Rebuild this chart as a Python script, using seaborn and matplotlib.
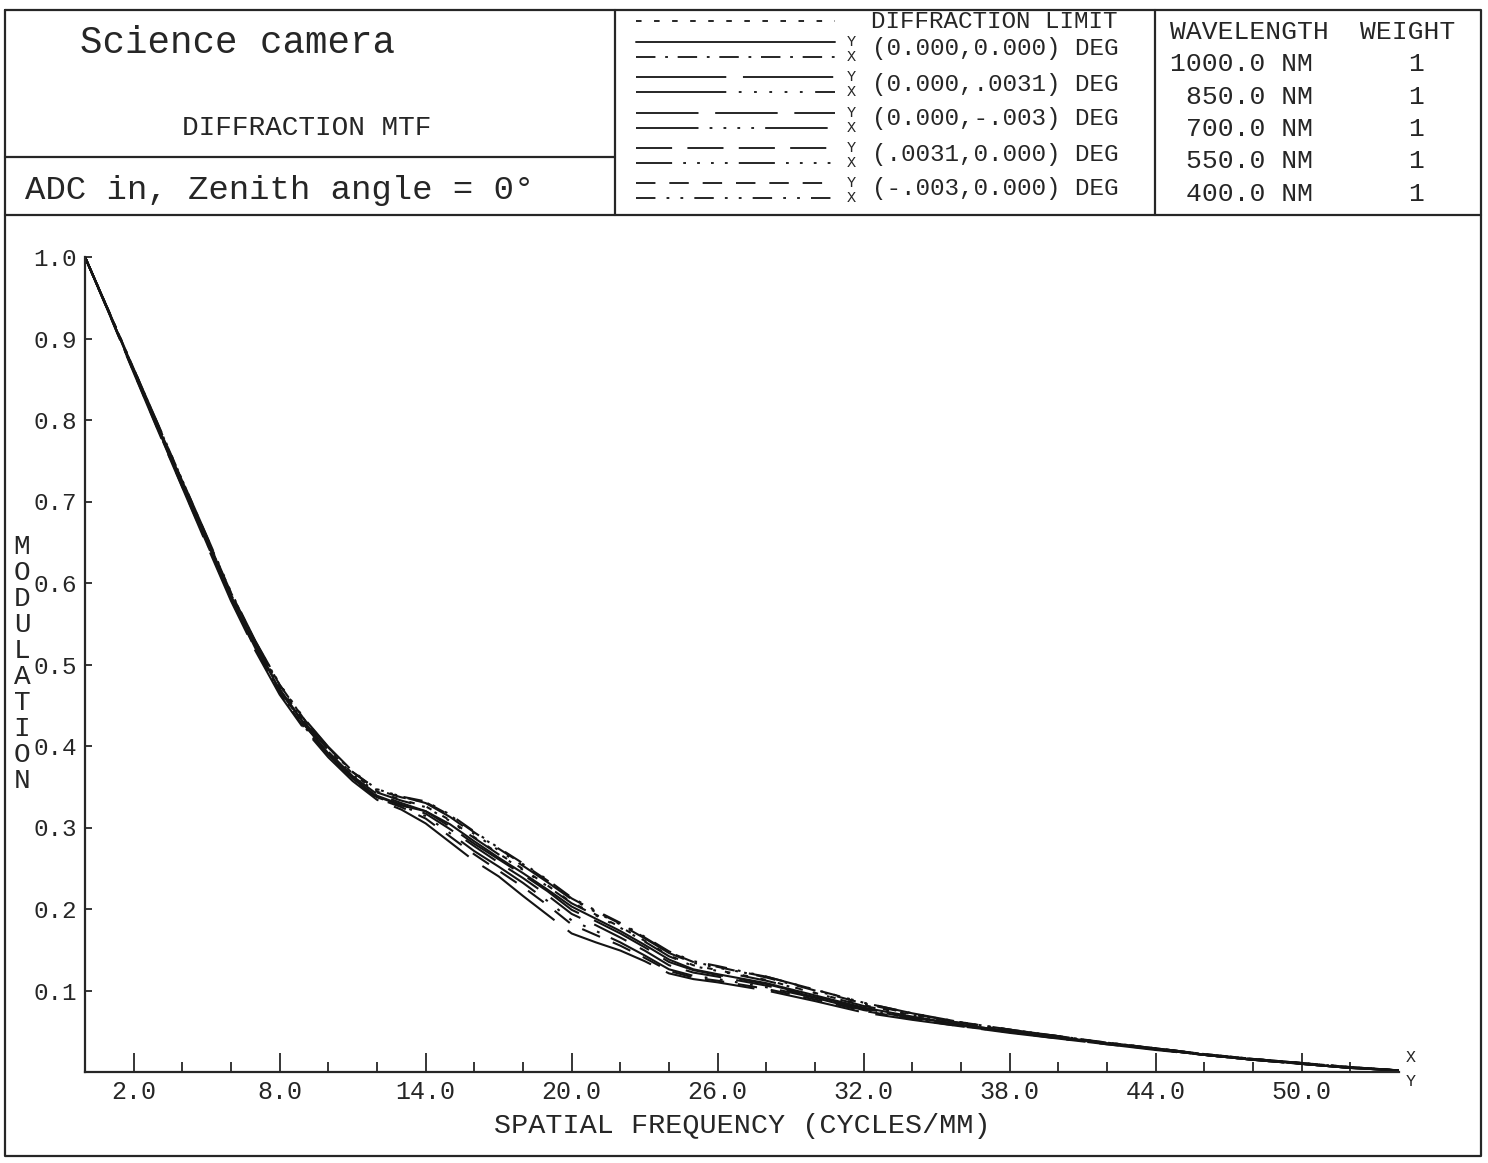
import matplotlib
matplotlib.use("Agg")
import matplotlib.pyplot as plt
import numpy as np
import pandas as pd
import seaborn as sns
from matplotlib.ticker import FixedLocator, FormatStrFormatter

# ---------------- data ----------------
freq = [0, 1, 2, 3, 4, 5, 6, 7, 8, 9, 10, 11, 12, 13, 14, 15, 16, 17, 18, 19, 20,
        21, 22, 23, 24, 25, 26, 28, 30, 32, 34, 36, 38, 40, 42, 44, 46, 48, 50, 52, 54]

diff_limit = [1.000, 0.932, 0.862, 0.793, 0.724, 0.655, 0.586, 0.526, 0.473, 0.431, 0.396,
              0.366, 0.344, 0.334, 0.326, 0.309, 0.288, 0.268, 0.249, 0.229, 0.208,
              0.193, 0.178, 0.161, 0.143, 0.131, 0.125, 0.113, 0.097, 0.082, 0.070,
              0.060, 0.051, 0.043, 0.036, 0.029, 0.022, 0.016, 0.011, 0.006, 0.002]
f1_y = [1.000, 0.931, 0.860, 0.790, 0.721, 0.652, 0.583, 0.523, 0.469, 0.427, 0.391,
        0.361, 0.338, 0.327, 0.320, 0.304, 0.283, 0.263, 0.244, 0.224, 0.203,
        0.188, 0.173, 0.156, 0.138, 0.126, 0.120, 0.109, 0.094, 0.079, 0.068,
        0.058, 0.050, 0.042, 0.035, 0.028, 0.021, 0.015, 0.010, 0.005, 0.002]
f1_x = [1.000, 0.932, 0.863, 0.794, 0.726, 0.657, 0.588, 0.528, 0.475, 0.433, 0.398,
        0.368, 0.346, 0.337, 0.331, 0.315, 0.294, 0.274, 0.255, 0.235, 0.213,
        0.197, 0.182, 0.165, 0.147, 0.135, 0.129, 0.116, 0.100, 0.084, 0.071,
        0.061, 0.052, 0.044, 0.036, 0.029, 0.022, 0.016, 0.011, 0.006, 0.002]
f2_y = [1.000, 0.930, 0.858, 0.787, 0.717, 0.647, 0.578, 0.517, 0.463, 0.421, 0.386,
        0.357, 0.334, 0.322, 0.305, 0.282, 0.259, 0.240, 0.216, 0.193, 0.170,
        0.159, 0.149, 0.136, 0.121, 0.114, 0.110, 0.100, 0.087, 0.073, 0.064,
        0.056, 0.048, 0.041, 0.034, 0.027, 0.021, 0.015, 0.010, 0.005, 0.002]
f2_x = [1.000, 0.931, 0.859, 0.789, 0.719, 0.650, 0.581, 0.520, 0.466, 0.424, 0.389,
        0.360, 0.337, 0.327, 0.314, 0.293, 0.271, 0.252, 0.232, 0.210, 0.186,
        0.173, 0.159, 0.143, 0.126, 0.118, 0.114, 0.104, 0.091, 0.076, 0.066,
        0.057, 0.049, 0.042, 0.035, 0.028, 0.021, 0.015, 0.010, 0.005, 0.002]
f3_y = [1.000, 0.931, 0.861, 0.791, 0.722, 0.653, 0.584, 0.524, 0.470, 0.428, 0.393,
        0.363, 0.341, 0.330, 0.320, 0.301, 0.280, 0.261, 0.242, 0.222, 0.199,
        0.185, 0.170, 0.153, 0.135, 0.125, 0.119, 0.108, 0.093, 0.078, 0.067,
        0.058, 0.050, 0.042, 0.035, 0.028, 0.021, 0.015, 0.010, 0.005, 0.002]
f3_x = [1.000, 0.932, 0.863, 0.795, 0.726, 0.658, 0.589, 0.529, 0.476, 0.434, 0.399,
        0.369, 0.347, 0.338, 0.330, 0.313, 0.292, 0.272, 0.253, 0.233, 0.212,
        0.196, 0.181, 0.164, 0.146, 0.134, 0.128, 0.117, 0.101, 0.085, 0.072,
        0.061, 0.052, 0.044, 0.036, 0.029, 0.022, 0.016, 0.011, 0.006, 0.002]
f4_y = [1.000, 0.931, 0.860, 0.790, 0.721, 0.652, 0.583, 0.522, 0.468, 0.426, 0.391,
        0.362, 0.339, 0.328, 0.317, 0.298, 0.277, 0.257, 0.238, 0.217, 0.194,
        0.180, 0.165, 0.149, 0.131, 0.122, 0.117, 0.106, 0.092, 0.077, 0.066,
        0.057, 0.049, 0.042, 0.035, 0.028, 0.021, 0.015, 0.010, 0.005, 0.002]
f4_x = [1.000, 0.932, 0.862, 0.793, 0.724, 0.655, 0.586, 0.526, 0.472, 0.430, 0.395,
        0.365, 0.343, 0.333, 0.325, 0.308, 0.287, 0.267, 0.248, 0.228, 0.207,
        0.192, 0.177, 0.160, 0.142, 0.130, 0.124, 0.112, 0.097, 0.081, 0.070,
        0.060, 0.051, 0.043, 0.036, 0.029, 0.022, 0.016, 0.011, 0.006, 0.002]
f5_y = [1.000, 0.930, 0.859, 0.788, 0.718, 0.649, 0.580, 0.519, 0.465, 0.423, 0.388,
        0.359, 0.336, 0.325, 0.311, 0.289, 0.267, 0.247, 0.227, 0.205, 0.181,
        0.168, 0.155, 0.140, 0.124, 0.116, 0.112, 0.102, 0.089, 0.075, 0.065,
        0.056, 0.049, 0.041, 0.034, 0.028, 0.021, 0.015, 0.010, 0.005, 0.002]
f5_x = [1.000, 0.932, 0.863, 0.794, 0.725, 0.656, 0.588, 0.528, 0.475, 0.433, 0.398,
        0.368, 0.347, 0.338, 0.332, 0.316, 0.295, 0.275, 0.256, 0.236, 0.214,
        0.198, 0.183, 0.166, 0.148, 0.136, 0.130, 0.117, 0.101, 0.085, 0.072,
        0.061, 0.052, 0.044, 0.036, 0.029, 0.022, 0.016, 0.011, 0.006, 0.002]

field_labels = ["(0.000,0.000) DEG", "(0.000,.0031) DEG", "(0.000,-.003) DEG",
                "(.0031,0.000) DEG", "(-.003,0.000) DEG"]
wavelengths = [1000.0, 850.0, 700.0, 550.0, 400.0]
weights = [1, 1, 1, 1, 1]
x_major = [2, 8, 14, 20, 26, 32, 38, 44, 50]
x_minor = [4, 6, 10, 12, 16, 18, 22, 24, 28, 30, 34, 36, 40, 42, 46, 48, 52]
y_ticks = [0.1, 0.2, 0.3, 0.4, 0.5, 0.6, 0.7, 0.8, 0.9, 1.0]

series = {"DL": diff_limit, "F1Y": f1_y, "F1X": f1_x, "F2Y": f2_y, "F2X": f2_x,
          "F3Y": f3_y, "F3X": f3_x, "F4Y": f4_y, "F4X": f4_x, "F5Y": f5_y, "F5X": f5_x}
for k, v in series.items():
    assert len(v) == len(freq), k

# dash styles (points)
dash_styles = {
    "DL": (4, 9),
    "F1Y": "",
    "F1X": (14, 7, 2, 7),
    "F2Y": (65, 12),
    "F2X": (65, 9, 2, 9, 2, 9, 2, 9, 2, 9, 2, 9),
    "F3Y": (45, 12),
    "F3X": (45, 8, 2, 8, 2, 8, 2, 8, 2, 8),
    "F4Y": (26, 11),
    "F4X": (26, 8, 2, 8, 2, 8, 2, 8, 2, 8),
    "F5Y": (14, 10),
    "F5X": (14, 8, 2, 8, 2, 8),
}

rows = []
for k, v in series.items():
    for f, m in zip(freq, v):
        rows.append((k, f, m))
df = pd.DataFrame(rows, columns=["curve", "freq", "mod"])

# ---------------- style ----------------
sns.set_style("white")
plt.rcParams['font.family'] = ['Liberation Mono', 'DejaVu Sans Mono']
plt.rcParams['lines.scale_dashes'] = False
INK = "#262626"

W, H = 1488, 1163
fig = plt.figure(figsize=(W / 100, H / 100), dpi=100)
fig.patch.set_facecolor("white")

bg = fig.add_axes([0, 0, 1, 1])
bg.set_xlim(0, W)
bg.set_ylim(H, 0)
bg.axis("off")

# frame and header boxes
lw_box = 1.6
bg.plot([5, 1481, 1481, 5, 5], [10, 10, 1156, 1156, 10], color=INK, lw=lw_box)
bg.plot([5, 1481], [215, 215], color=INK, lw=lw_box)
bg.plot([615, 615], [10, 215], color=INK, lw=lw_box)
bg.plot([1155, 1155], [10, 215], color=INK, lw=lw_box)
bg.plot([5, 615], [157, 157], color=INK, lw=lw_box)

bg.text(80, 43, "Science camera", fontsize=27, ha="left", va="center", color=INK)
bg.text(307, 128, "DIFFRACTION MTF", fontsize=20, ha="center", va="center", color=INK)
bg.text(25, 191, "ADC in, Zenith angle = 0°", fontsize=24.5, ha="left", va="center", color=INK)

# legend block
bg.plot([636, 835], [21, 21], color=INK, lw=1.4, dashes=dash_styles["DL"])
bg.text(871, 22, "DIFFRACTION LIMIT", fontsize=17.5, ha="left", va="center", color=INK)
row_y = [(42, 57, 49), (77, 92, 84), (113, 128, 119), (148, 163, 154), (183, 198, 189)]
for i, (yy, yx, yt) in enumerate(row_y):
    ky, kx = f"F{i+1}Y", f"F{i+1}X"
    if dash_styles[ky] == "":
        bg.plot([636, 835], [yy, yy], color=INK, lw=1.4)
    else:
        bg.plot([636, 835], [yy, yy], color=INK, lw=1.4, dashes=dash_styles[ky])
    bg.plot([636, 835], [yx, yx], color=INK, lw=1.4, dashes=dash_styles[kx])
    bg.text(851, yy, "Y", fontsize=11, ha="center", va="center", color=INK)
    bg.text(851, yx, "X", fontsize=11, ha="center", va="center", color=INK)
    bg.text(872, yt, field_labels[i], fontsize=17.5, ha="left", va="center", color=INK)

# wavelength table
bg.text(1170, 32, "WAVELENGTH", fontsize=19, ha="left", va="center", color=INK)
bg.text(1360, 32, "WEIGHT", fontsize=19, ha="left", va="center", color=INK)
for i, (wl, wt) in enumerate(zip(wavelengths, weights)):
    yy = 64 + i * 32.5
    bg.text(1313, yy, f"{wl:.1f} NM", fontsize=19, ha="right", va="center", color=INK)
    bg.text(1416, yy, f"{wt}", fontsize=19, ha="center", va="center", color=INK)

# stacked y label and axis end markers
bg.text(22, 664, "\n".join("MODULATION"), fontsize=20, ha="center", va="center",
        linespacing=1.0, color=INK)
bg.text(1411, 1058, "X", fontsize=12, ha="center", va="center", color=INK)
bg.text(1411, 1082, "Y", fontsize=12, ha="center", va="center", color=INK)

# ---------------- main plot ----------------
ax = fig.add_axes([85 / W, 1 - 1072 / H, (1399 - 85) / W, (1072 - 257) / H])
ax.set_facecolor("none")
palette = {k: "#141414" for k in series}
sns.lineplot(data=df, x="freq", y="mod", hue="curve", style="curve",
             palette=palette, dashes=dash_styles, legend=False, ax=ax,
             linewidth=1.5, errorbar=None)

ax.set_xlim(0, 54)
ax.set_ylim(0, 1.0)
ax.xaxis.set_major_locator(FixedLocator(x_major))
ax.xaxis.set_minor_locator(FixedLocator(x_minor))
ax.xaxis.set_major_formatter(FormatStrFormatter("%.1f"))
ax.yaxis.set_major_locator(FixedLocator(y_ticks))
ax.yaxis.set_major_formatter(FormatStrFormatter("%.1f"))
ax.tick_params(axis="x", which="major", direction="in", length=14, width=1.3,
               pad=6, labelsize=18, colors=INK, bottom=True)
ax.tick_params(axis="x", which="minor", direction="in", length=7, width=1.3,
               colors=INK, bottom=True)
ax.tick_params(axis="y", which="major", direction="in", length=5, width=1.3,
               pad=6, labelsize=17.5, colors=INK, left=True)
for s in ["top", "right"]:
    ax.spines[s].set_visible(False)
for s in ["left", "bottom"]:
    ax.spines[s].set_linewidth(1.6)
    ax.spines[s].set_color(INK)
ax.set_xlabel("SPATIAL FREQUENCY (CYCLES/MM)", fontsize=20.5, labelpad=6, color=INK)
ax.set_ylabel("")

fig.savefig("out.png", dpi=100, facecolor="white")
